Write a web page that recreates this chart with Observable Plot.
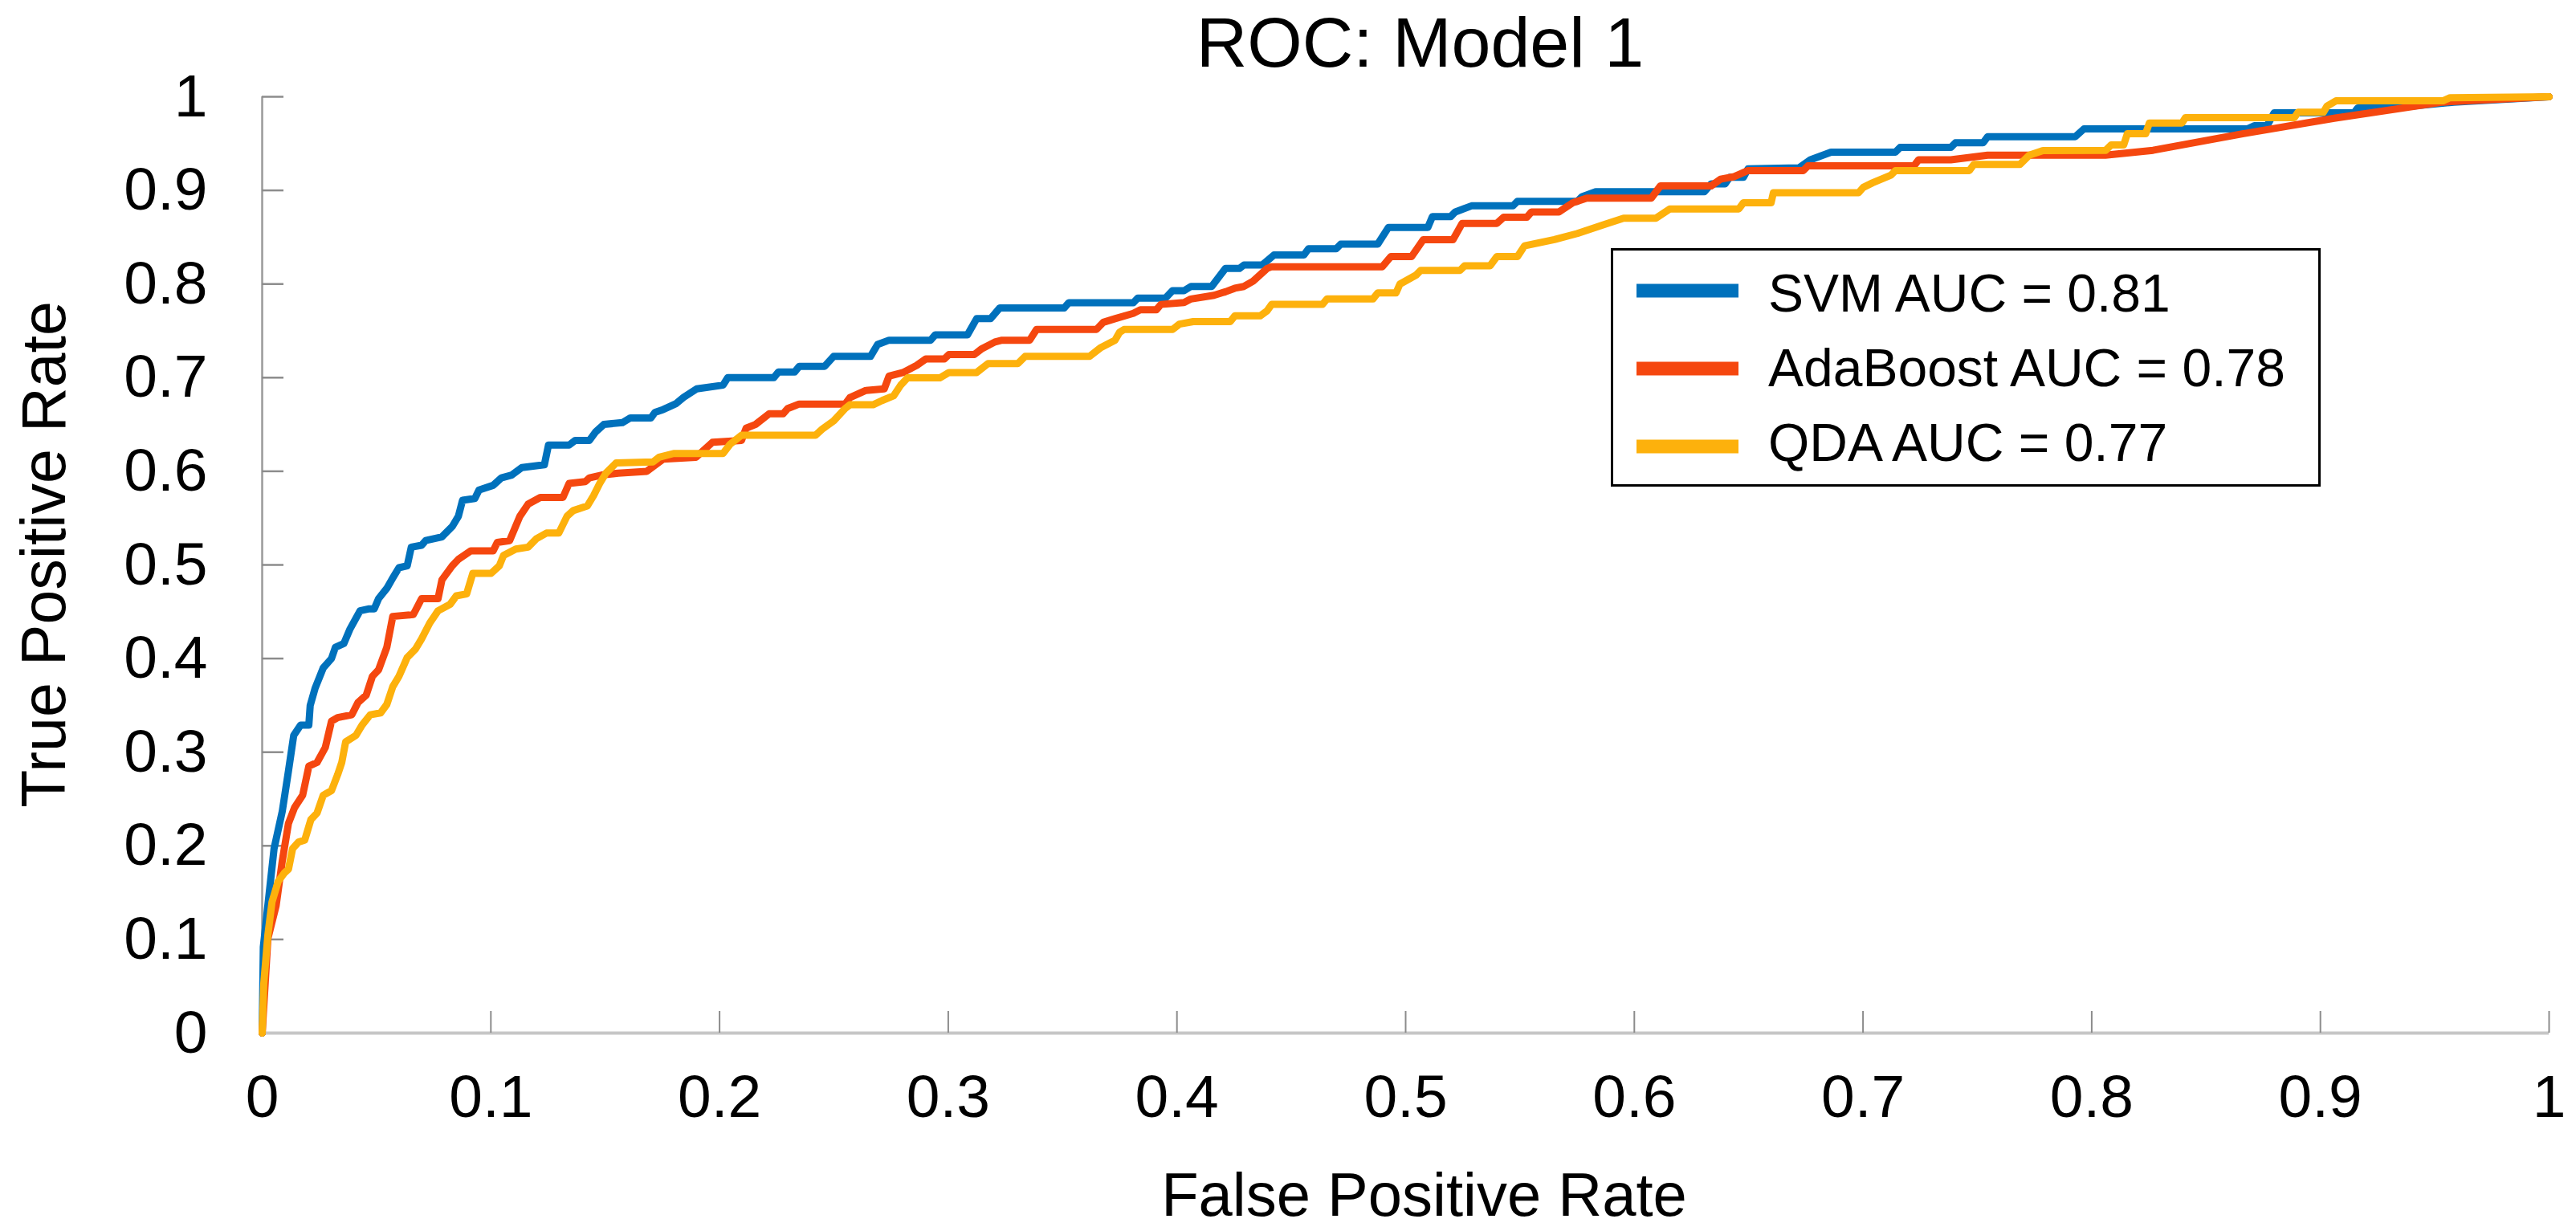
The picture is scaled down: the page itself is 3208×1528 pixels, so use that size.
<!DOCTYPE html>
<html>
<head>
<meta charset="utf-8">
<script src="https://cdn.jsdelivr.net/npm/d3@7"></script>
<script src="https://cdn.jsdelivr.net/npm/@observablehq/plot@0.6"></script>
<style>
  html, body { margin: 0; padding: 0; background: #fff; }
  #chart svg { display: block; }
</style>
</head>
<body>
<div id="chart"></div>
<script>
// ---- data ----
const title = "ROC: Model 1";
const xLabel = "False Positive Rate";
const yLabel = "True Positive Rate";
const models = ["SVM", "AdaBoost", "QDA"];
const aucValues = [0.81, 0.78, 0.77];
const modelColors = ["#0071BC", "#F5470F", "#FDB10C"];
const xTicks = [0, 0.1, 0.2, 0.3, 0.4, 0.5, 0.6, 0.7, 0.8, 0.9, 1];
const yTicks = [0, 0.1, 0.2, 0.3, 0.4, 0.5, 0.6, 0.7, 0.8, 0.9, 1];
const tickLabels = ["0", "0.1", "0.2", "0.3", "0.4", "0.5", "0.6", "0.7", "0.8", "0.9", "1"];

// [false positive rate, true positive rate]
const svmRoc = [
  [0,0],[0.0005,0.092],[0.0052,0.197],[0.0088,0.237],[0.0115,0.28],[0.0138,0.318],[0.0168,0.329],[0.0204,0.329],
  [0.021,0.35],[0.0231,0.368],[0.0267,0.39],[0.0303,0.4],[0.032,0.412],[0.0357,0.416],[0.0383,0.431],[0.0428,0.451],
  [0.0464,0.453],[0.049,0.453],[0.0509,0.464],[0.0545,0.475],[0.0571,0.486],[0.0598,0.497],[0.0634,0.499],[0.0652,0.519],
  [0.0697,0.521],[0.0715,0.526],[0.0786,0.53],[0.0831,0.541],[0.0858,0.552],[0.0876,0.569],[0.093,0.571],[0.0948,0.58],
  [0.101,0.585],[0.1046,0.593],[0.1091,0.596],[0.1136,0.604],[0.1234,0.607],[0.1252,0.628],[0.1342,0.628],[0.1369,0.633],
  [0.1431,0.633],[0.1458,0.642],[0.1494,0.65],[0.1575,0.652],[0.161,0.657],[0.17,0.657],[0.1718,0.663],[0.1754,0.666],
  [0.1808,0.672],[0.1843,0.679],[0.19,0.688],[0.2015,0.692],[0.2036,0.70],[0.2237,0.70],[0.2257,0.706],[0.2328,0.706],
  [0.2348,0.712],[0.2459,0.712],[0.2499,0.7227],[0.266,0.7227],[0.2691,0.7354],[0.2741,0.74],[0.2923,0.74],[0.2943,0.7457],
  [0.3084,0.7457],[0.3124,0.763],[0.3185,0.763],[0.3225,0.7744],[0.3507,0.7744],[0.3527,0.78],[0.3809,0.78],[0.3829,0.785],
  [0.395,0.785],[0.3981,0.7929],[0.4031,0.7929],[0.4061,0.7974],[0.4152,0.7974],[0.4212,0.8166],[0.4273,0.8166],[0.4293,0.8203],
  [0.4373,0.8203],[0.4424,0.831],[0.4555,0.831],[0.4575,0.8376],[0.4696,0.8376],[0.4716,0.8426],[0.4878,0.8426],[0.4925,0.8605],
  [0.5097,0.8605],[0.5117,0.872],[0.5197,0.872],[0.5217,0.877],[0.5288,0.8835],[0.5469,0.8835],[0.5489,0.8884],[0.5751,0.8884],
  [0.5771,0.8933],[0.5831,0.8985],[0.6306,0.8985],[0.6336,0.907],[0.6397,0.907],[0.6417,0.914],[0.6477,0.914],[0.6497,0.923],
  [0.6719,0.924],[0.677,0.9327],[0.686,0.9409],[0.7142,0.9409],[0.7162,0.9459],[0.7384,0.9459],[0.7404,0.9508],[0.7525,0.9508],
  [0.7545,0.9573],[0.7928,0.9573],[0.7966,0.9657],[0.868,0.9657],[0.8711,0.9691],[0.8767,0.9691],[0.8798,0.9829],[0.9147,0.9829],
  [0.9163,0.988],[0.9314,0.988],[0.9583,0.9943],[1,1]
];
const adaRoc = [
  [0,0],[0.0025,0.101],[0.0061,0.136],[0.0088,0.184],[0.0115,0.224],[0.0142,0.241],[0.0177,0.254],[0.0204,0.285],
  [0.024,0.289],[0.0276,0.305],[0.0303,0.333],[0.033,0.337],[0.0392,0.34],[0.0419,0.353],[0.0455,0.361],[0.0482,0.381],
  [0.0509,0.388],[0.0545,0.412],[0.0571,0.445],[0.0661,0.447],[0.0697,0.464],[0.0769,0.464],[0.0786,0.484],[0.0831,0.499],
  [0.0858,0.506],[0.0912,0.515],[0.101,0.515],[0.1028,0.524],[0.1082,0.526],[0.1127,0.552],[0.1163,0.565],[0.1216,0.572],
  [0.1315,0.572],[0.1342,0.587],[0.1413,0.589],[0.1431,0.593],[0.1485,0.596],[0.1557,0.598],[0.1682,0.6],[0.1754,0.613],
  [0.1897,0.615],[0.1969,0.631],[0.2096,0.633],[0.2116,0.646],[0.2157,0.65],[0.2217,0.6615],[0.2278,0.6615],[0.2298,0.667],
  [0.2348,0.6718],[0.2549,0.6718],[0.257,0.6787],[0.264,0.6864],[0.272,0.688],[0.2741,0.7016],[0.2802,0.7055],[0.2862,0.7131],
  [0.2902,0.72],[0.2983,0.72],[0.3003,0.7247],[0.3114,0.7247],[0.3144,0.7304],[0.3204,0.7381],[0.3235,0.74],[0.3356,0.74],
  [0.3386,0.7515],[0.3648,0.7515],[0.3678,0.7591],[0.3729,0.763],[0.3809,0.7687],[0.384,0.7725],[0.391,0.7725],[0.393,0.7782],
  [0.4031,0.7802],[0.4061,0.784],[0.4162,0.7879],[0.4212,0.7917],[0.4253,0.7955],[0.4293,0.7974],[0.4333,0.8031],[0.4394,0.8166],
  [0.4414,0.8185],[0.4898,0.8185],[0.4935,0.8293],[0.5026,0.8293],[0.5077,0.8474],[0.5207,0.8474],[0.5247,0.8648],[0.5399,0.8648],
  [0.5429,0.8714],[0.553,0.8714],[0.555,0.877],[0.567,0.877],[0.5731,0.8868],[0.5792,0.8917],[0.6074,0.8917],[0.6114,0.9048],
  [0.6336,0.9048],[0.6377,0.912],[0.6437,0.9147],[0.6497,0.9212],[0.6739,0.9212],[0.6759,0.9262],[0.7223,0.9262],[0.7243,0.9327],
  [0.7384,0.9327],[0.7545,0.9376],[0.806,0.9376],[0.8268,0.9428],[0.8664,0.9606],[0.906,0.9771],[0.9536,0.9943],[1,1]
];
const qdaRoc = [
  [0,0],[0.0007,0.053],[0.0025,0.105],[0.0043,0.14],[0.007,0.162],[0.0097,0.171],[0.0115,0.175],[0.0133,0.197],
  [0.0159,0.204],[0.0186,0.206],[0.0213,0.228],[0.024,0.235],[0.0267,0.254],[0.0303,0.259],[0.033,0.276],[0.0348,0.289],
  [0.0365,0.311],[0.041,0.318],[0.0437,0.329],[0.0473,0.34],[0.0518,0.342],[0.0545,0.351],[0.0571,0.37],[0.0598,0.381],
  [0.0634,0.401],[0.067,0.41],[0.0697,0.421],[0.0733,0.438],[0.0769,0.451],[0.0822,0.458],[0.0849,0.467],[0.0894,0.469],
  [0.0921,0.491],[0.1001,0.491],[0.1037,0.499],[0.1055,0.51],[0.1109,0.517],[0.1163,0.519],[0.1199,0.528],[0.1243,0.534],
  [0.1297,0.534],[0.1333,0.552],[0.136,0.558],[0.1422,0.563],[0.1449,0.574],[0.1476,0.587],[0.1503,0.598],[0.1548,0.609],
  [0.1709,0.61],[0.1736,0.615],[0.1799,0.619],[0.2015,0.619],[0.2046,0.6289],[0.2096,0.6385],[0.2419,0.6385],[0.2449,0.645],
  [0.2499,0.6538],[0.2549,0.667],[0.257,0.671],[0.2671,0.671],[0.2711,0.6756],[0.2761,0.6806],[0.2792,0.692],[0.2822,0.6998],
  [0.2963,0.6998],[0.3003,0.7055],[0.3124,0.7055],[0.3174,0.7151],[0.3305,0.7151],[0.3336,0.7227],[0.3618,0.7227],[0.3668,0.7323],
  [0.3729,0.74],[0.3749,0.7484],[0.3769,0.7515],[0.3981,0.7515],[0.4011,0.7572],[0.4071,0.7599],[0.4233,0.7599],[0.4253,0.766],
  [0.4364,0.766],[0.4394,0.7714],[0.4414,0.7782],[0.4636,0.7782],[0.4656,0.784],[0.4857,0.784],[0.4878,0.7905],[0.4958,0.7905],
  [0.4975,0.80],[0.5046,0.8096],[0.5066,0.8146],[0.5238,0.8146],[0.5258,0.8195],[0.5369,0.8195],[0.5399,0.8293],[0.5489,0.8293],
  [0.552,0.8408],[0.565,0.8474],[0.5751,0.854],[0.5872,0.8638],[0.5953,0.8703],[0.6094,0.8703],[0.6155,0.8802],[0.6457,0.8802],
  [0.6477,0.8868],[0.6598,0.8868],[0.6608,0.8976],[0.6981,0.8976],[0.7001,0.9032],[0.7042,0.9081],[0.7122,0.9163],[0.7142,0.9212],
  [0.7465,0.9212],[0.7485,0.9278],[0.7686,0.9278],[0.7727,0.9376],[0.7787,0.9426],[0.8061,0.9428],[0.8085,0.9486],[0.814,0.9486],
  [0.8156,0.9606],[0.8236,0.9606],[0.8252,0.972],[0.8395,0.972],[0.841,0.9777],[0.8886,0.9777],[0.8902,0.9834],[0.9013,0.9834],
  [0.9029,0.99],[0.9068,0.9957],[0.9536,0.9957],[0.9567,0.999],[1,1]
];

// ---- build table ----
const series = [svmRoc, adaRoc, qdaRoc];
const rows = series.flatMap((pts, i) => pts.map(([fpr, tpr]) => ({model: models[i], fpr, tpr})));
const fmt = d => tickLabels[Math.round(d * 10)];

const W = 3208, H = 1528;
const mL = 326, mR = 34, mT = 120, mB = 242;
const innerW = W - mL - mR, innerH = H - mT - mB;
const tickLen = 27;
const font = "'Liberation Sans', Arial, Helvetica, sans-serif";

const chart = Plot.plot({
  width: W, height: H,
  marginLeft: mL, marginRight: mR, marginTop: mT, marginBottom: mB,
  x: {domain: [0, 1], axis: null},
  y: {domain: [0, 1], axis: null},
  color: {domain: models, range: modelColors},
  style: {fontFamily: font, background: "#fff", color: "#000", overflow: "visible"},
  marks: [
    Plot.ruleX([0], {stroke: "#9a9a9a", strokeWidth: 2.5}),
    Plot.ruleY([0], {stroke: "#c6c6c6", strokeWidth: 4}),
    Plot.ruleX(xTicks.slice(1), {insetTop: innerH - tickLen, stroke: "#8c8c8c", strokeWidth: 2}),
    Plot.ruleY(yTicks.slice(1), {insetRight: innerW - tickLen, stroke: "#8c8c8c", strokeWidth: 2.5}),
    Plot.axisX({ticks: xTicks, tickSize: 0, tickPadding: 51, tickFormat: fmt, fontSize: 75, label: null, fill: "#000"}),
    Plot.axisY({ticks: yTicks, tickSize: 0, tickPadding: 68, tickFormat: fmt, fontSize: 75, label: null, fill: "#000"}),
    Plot.line(rows, {x: "fpr", y: "tpr", z: "model", stroke: "model", strokeWidth: 9, strokeLinejoin: "round", strokeLinecap: "round"}),
    Plot.text([title], {text: d => d, frameAnchor: "top", lineAnchor: "bottom", dy: -38, dx: 18, fontSize: 88, fill: "#000"}),
    Plot.text([xLabel], {text: d => d, frameAnchor: "bottom", lineAnchor: "bottom", dy: 227, dx: 23, fontSize: 76, fill: "#000"}),
    Plot.text([yLabel], {text: d => d, frameAnchor: "left", textAnchor: "middle", lineAnchor: "bottom", rotate: -90, dx: -246, dy: -13, fontSize: 77, fill: "#000"})
  ]
});

// ---- legend (drawn into the same svg) ----
const svg = d3.select(chart);
const lg = svg.append("g").attr("font-family", font).attr("text-anchor", "start");
lg.append("rect")
  .attr("x", 2007.5).attr("y", 310.5).attr("width", 881).attr("height", 294)
  .attr("fill", "#fff").attr("stroke", "#000").attr("stroke-width", 3);
const sampleY = [362, 459, 556];
const textY = [388, 481, 574];
models.forEach((m, i) => {
  lg.append("line")
    .attr("x1", 2038).attr("x2", 2165).attr("y1", sampleY[i]).attr("y2", sampleY[i])
    .attr("stroke", modelColors[i]).attr("stroke-width", 17);
  lg.append("text")
    .attr("x", 2202).attr("y", textY[i]).attr("font-size", 66).attr("fill", "#000")
    .attr("text-anchor", "start")
    .text(`${m} AUC = ${aucValues[i].toFixed(2)}`);
});

document.getElementById("chart").appendChild(chart);
</script>
</body>
</html>
